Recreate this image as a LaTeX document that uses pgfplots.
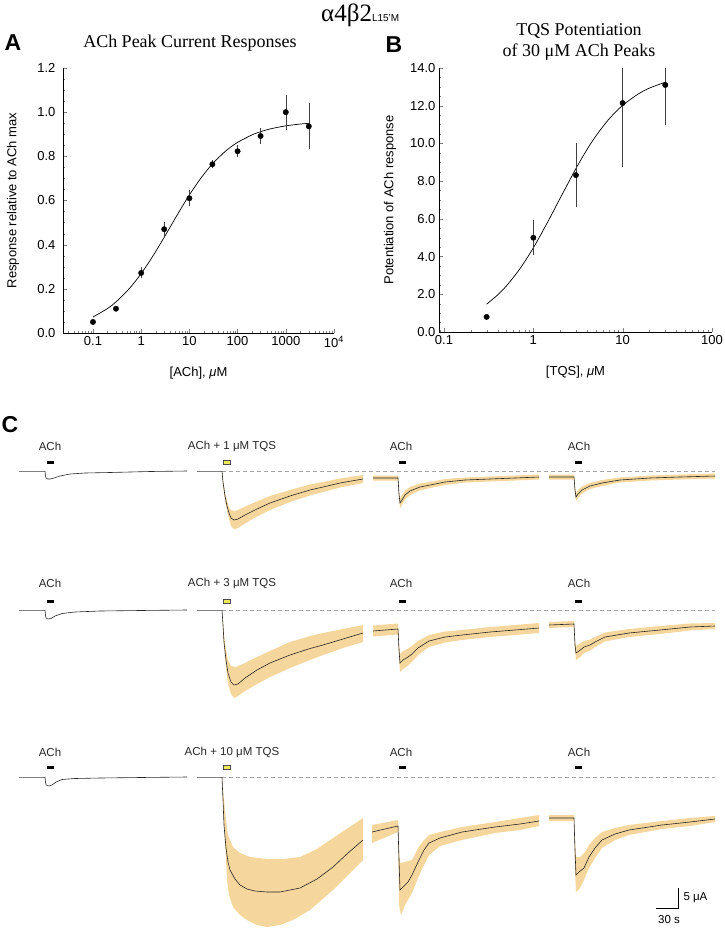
\documentclass[border=0pt]{standalone}
\usepackage{fontspec}
\setmainfont{Liberation Sans}
\newfontfamily\tnr{Liberation Serif}
\usepackage{pgfplots}
\pgfplotsset{compat=1.18}

\definecolor{band}{HTML}{F5D69C}
\definecolor{tqsyellow}{HTML}{EFE95A}
\definecolor{dashgray}{HTML}{A3A3A3}

\pgfplotsset{
  dr/.style={
    scale only axis, axis lines*=left, tick align=inside,
    axis line style={line width=0.6pt},
    major tick length=4pt, minor tick length=2.2pt,
    minor y tick num=3,
    tick label style={font=\fontsize{13}{14}\selectfont},
    yticklabel style={/pgf/number format/fixed, /pgf/number format/fixed zerofill, /pgf/number format/precision=1},
    label style={font=\fontsize{13}{14}\selectfont},
  },
  dots/.style={only marks, mark=*, mark size=2.7pt, black},
  error bars/ebar/.style={error bar style={line width=0.5pt, black!75},
    error mark options={mark size=2.2pt, line width=0.5pt, black!75}},
  trace/.style={black!85, line width=0.6pt},
  pre/.style={black!50, line width=0.6pt},
  bnd/.style={fill=band, draw=none},
}

\begin{document}
\begin{tikzpicture}
\path[use as bounding box] (0pt,0pt) rectangle (724pt,930pt);

% ---------- A: ACh concentration-response ----------
\begin{axis}[xmode=log, dr, /pgf/number format/assume math mode=true,
  at={(63pt,597pt)}, anchor=south west, width=271pt, height=265pt,
  xmin=0.0239, xmax=10000, ymin=0, ymax=1.2,
  xtick={0.1,1,10,100,1000,10000},
  xticklabels={0.1,1,10,100,1000,10\textsuperscript{4}},
  minor xtick={0.03,0.04,0.05,0.06,0.07,0.08,0.09,0.2,0.3,0.4,0.5,0.6,0.7,0.8,0.9,
    2,3,4,5,6,7,8,9,20,30,40,50,60,70,80,90,200,300,400,500,600,700,800,900,
    2000,3000,4000,5000,6000,7000,8000,9000},
  ytick={0,0.2,0.4,0.6,0.8,1.0,1.2},
  yticklabel style={xshift=-4pt},
  xlabel={[ACh], \textit{μ}M}, ylabel={Response relative to ACh max},
  xlabel style={at={(axis description cs:0.5,-0.151)}, anchor=center},
  ylabel style={at={(axis description cs:-0.1845,0.5)}, anchor=center}]
\addplot[black, line width=0.7pt, smooth] coordinates {
  (0.1,0.0723) (0.2,0.1107) (0.3,0.1408) (0.5,0.1878) (0.7,0.2248) (1,0.2691)
  (1.5,0.3256) (2,0.3690) (3,0.4332) (5,0.5164) (7,0.5704) (10,0.6250)
  (15,0.6823) (20,0.7191) (30,0.7656) (50,0.8136) (70,0.8399) (100,0.8633)
  (200,0.8973) (300,0.9116) (500,0.9253) (1000,0.9380) (2000,0.9462) (3000,0.9495)};
\addplot[dots, error bars/.cd, y dir=both, y explicit, ebar]
  table[x=x, y=y, y error=e] {
x y e
1 0.272 0.015
3 0.470 0.022
10 0.610 0.027
30 0.764 0.008
100 0.823 0.017
300 0.892 0.025
1000 1.000 0.070
3000 0.936 0.095
};
\addplot[dots] coordinates {(0.1,0.050) (0.3,0.110)};
\end{axis}

% ---------- B: TQS potentiation ----------
\begin{axis}[xmode=log, dr, /pgf/number format/assume math mode=true,
  at={(439pt,598pt)}, anchor=south west, width=273pt, height=264pt,
  xmin=0.0879, xmax=100, ymin=0, ymax=14,
  xtick={0.1,1,10,100}, xticklabels={0.1,1,10,100},
  minor xtick={0.09,0.2,0.3,0.4,0.5,0.6,0.7,0.8,0.9,2,3,4,5,6,7,8,9,20,30,40,50,60,70,80,90},
  ytick={0,2,4,6,8,10,12,14},
  xlabel={[TQS], \textit{μ}M}, ylabel={Potentiation of ACh response},
  xlabel style={at={(axis description cs:0.5,-0.1515)}, anchor=center},
  ylabel style={at={(axis description cs:-0.179,0.5)}, anchor=center}]
\addplot[black, line width=0.7pt, smooth] coordinates {
  (0.3,1.475) (0.4,1.971) (0.5,2.447) (0.7,3.323) (1,4.463) (1.5,5.969)
  (2,7.102) (3,8.671) (4,9.686) (5,10.387) (7,11.282) (10,12.020)
  (15,12.627) (20,12.937) (30,13.245)};
% upper halves of the two last bars run past the top of the axis: no cap there
\addplot[only marks, mark=none, forget plot,
  error bars/.cd, y dir=plus, y explicit, error mark=none, error bar style={line width=0.5pt, black!75}]
  table[x=x, y=y, y error=e] {
x y e
10 12.14 1.86
30 13.10 0.90
};
\addplot[dots, error bars/.cd, y dir=minus, y explicit, ebar]
  table[x=x, y=y, y error=e] {
x y e
10 12.14 3.30
30 13.10 1.98
};
\addplot[dots, error bars/.cd, y dir=both, y explicit, ebar]
  table[x=x, y=y, y error=e] {
x y e
1 5.00 0.82
3 8.32 1.57
};
\addplot[dots] coordinates {(0.3,0.80)};
\end{axis}

% ---------- page-level overlay (pixel units, y downwards) + panel C ----------
\begin{axis}[at={(0pt,0pt)}, anchor=south west, width=724pt, height=930pt, scale only axis,
  xmin=0, xmax=724, ymin=0, ymax=930, y dir=reverse, hide axis, clip=false]

% titles and panel letters
\node[anchor=base west, inner sep=0] at (axis cs:321,21)
  {\fontsize{25}{25}\tnr α4β2\fontsize{10}{10}\selectfont\normalfont\raisebox{-0.5pt}{L15'M}};
\node[font=\fontsize{18}{18}\tnr] at (axis cs:190,43) {ACh Peak Current Responses};
\node[font=\fontsize{18}{21}\tnr, align=center] at (axis cs:579,42) {TQS Potentiation\\of 30 μM ACh Peaks};
\node[font=\fontsize{23}{23}\selectfont\bfseries] at (axis cs:13,43) {A};
\node[font=\fontsize{23}{23}\selectfont\bfseries] at (axis cs:394,45) {B};
\node[font=\fontsize{23}{23}\selectfont\bfseries] at (axis cs:10,425) {C};

% shaded SEM bands
\addplot[bnd] coordinates {(222,471)(223,480)(225,492)(227,501)(229,507)(231,510)(234,511)(238,510)(245,506.5)(257,501.5)(270,496)(290,490)(310,484.5)(323,482)(340,478.5)(363,475)
  (363,483)(340,487.5)(323,492)(310,495.5)(290,502)(270,510)(257,516.5)(245,523.5)(238,528)(234,529)(231,526)(229,519)(227,511)(225,500)(223,484)(222,471)} -- cycle;
\addplot[bnd] coordinates {(373,475.5)(398,475.5)(399,491)(400,498)(402,495)(405,490.5)(410,487)(420,483.5)(430,482)(445,479)(465,477.5)(490,476.5)(515,475.5)(539,474.5)
  (539,479.5)(515,480.5)(490,481.5)(465,482.5)(445,485)(430,488)(420,490.5)(410,495)(405,499.5)(402,505)(400,508)(399,497)(398,480.5)(373,480.5)} -- cycle;
\addplot[bnd] coordinates {(549,474.5)(574,474.5)(575,487)(576,493)(578,490)(582,486.5)(590,483)(602,480)(620,477.5)(650,475.5)(680,474.5)(715,473.5)
  (715,478.5)(680,479.5)(650,480.5)(620,482.5)(602,486)(590,489)(582,493.5)(578,498)(576,501)(575,493)(574,479.5)(549,479.5)} -- cycle;

\addplot[bnd] coordinates {(222,610)(223,622)(224,636)(226,650)(228,660)(231,666)(236,667)(245,663)(257,657)(270,651)(290,642)(310,636)(323,633)(343,629)(363,625)
  (363,642)(343,648)(323,655)(310,660)(290,668)(270,677)(257,684)(245,691)(238,696)(234,698)(231,694)(228,684)(226,668)(224,646)(223,628)(222,610)} -- cycle;
\addplot[bnd] coordinates {(373,625.5)(398,623.5)(399,643)(400,654)(403,651)(408,648.5)(412,646)(418,641)(429,635)(445,631.5)(462,630)(490,627)(515,625)(539,623)
  (539,633)(515,635)(490,637)(462,640)(445,642.5)(429,647)(418,655)(412,662)(408,665.5)(403,669)(400,672)(399,657)(398,634.5)(373,636.5)} -- cycle;
\addplot[bnd] coordinates {(549,622)(574,621)(575,640)(576,646)(579,644)(584,641)(590,639.5)(595,637)(605,632.5)(629,629)(660,626)(690,623.5)(715,623)
  (715,629)(690,630.5)(660,634)(629,637)(605,641.5)(595,647)(590,650.5)(584,653)(579,658)(576,660)(575,650)(574,627)(549,628)} -- cycle;

\addplot[bnd] coordinates {(222,777)(224,800)(226,820)(228,835)(233,847)(240,853)(250,857)(267,859)(283,859)(300,857)(317,849)(333,838)(348,828)(363,818)
  (363,860)(348,875)(333,890)(310,910)(293,920)(280,925)(267,927)(257,925)(247,920)(240,915)(233,907)(229,895)(227,880)(225,840)(223,800)(222,777)} -- cycle;
\addplot[bnd] coordinates {(372,825)(398,820)(399,850)(400,863)(405,862)(412,860)(418,848)(424,840)(429,835)(440,832)(462,827)(495,822)(539,815)
  (539,826)(520,830)(495,833)(462,840)(440,846)(429,855)(424,865)(418,878)(412,893)(405,905)(401,915)(399,905)(398,832)(372,843)} -- cycle;
\addplot[bnd] coordinates {(549,815)(574,815)(575,840)(576,857)(580,857)(585,852)(589,845)(595,838)(602,832)(615,828)(629,825)(662,821)(690,818)(715,816)
  (715,822)(690,826)(662,829)(629,835)(615,840)(602,848)(595,858)(589,868)(584,880)(580,888)(576,892)(575,870)(574,821)(549,821)} -- cycle;

% dashed baselines
\addplot[dashgray, dash pattern=on 4pt off 3pt, line width=0.7pt] coordinates {(222,471)(715,471)};
\addplot[dashgray, dash pattern=on 4pt off 3pt, line width=0.7pt] coordinates {(222,610)(715,610)};
\addplot[dashgray, dash pattern=on 4pt off 3pt, line width=0.7pt] coordinates {(222,777)(715,777)};

% row 1: 1 uM TQS
\addplot[pre] coordinates {(19,471)(45,471)};
\addplot[trace] coordinates {(45,471)(45.5,476)(46,478)(48,479)(50,479)(54,478)(60,476)(70,474)(85,473)(110,472.5)(150,471.5)(187,471)};
\addplot[pre] coordinates {(197,471)(222,471)};
\addplot[trace] coordinates {(222,471)(223,482)(225,496)(227,506)(229,513)(231,518)(234,520)(238,519)(245,515)(257,509)(270,503)(290,496)(310,490)(323,487)(340,483)(363,479)};
\addplot[trace] coordinates {(373,478)(398,478)(399,494)(400,503)(402,500)(405,495)(410,491)(420,487)(430,485)(445,482)(465,480)(490,479)(515,478)(539,477)};
\addplot[trace] coordinates {(549,477)(574,477)(575,490)(576,497)(578,494)(582,490)(590,486)(602,483)(620,480)(650,478)(680,477)(715,476)};

% row 2: 3 uM TQS
\addplot[pre] coordinates {(19,610)(45,610)};
\addplot[trace] coordinates {(45,610)(45.5,615)(46,618)(48,619)(51,618.5)(55,616)(62,613.5)(75,612)(100,611)(140,610.5)(187,610)};
\addplot[pre] coordinates {(197,610)(222,610)};
\addplot[trace] coordinates {(222,610)(223,625)(224,642)(226,660)(228,673)(231,682)(234,685)(238,684)(245,678)(257,670)(270,663)(290,655)(310,648.5)(323,645)(343,639)(363,633)};
\addplot[trace] coordinates {(373,631)(398,629)(399,650)(400,663)(403,660)(408,657)(412,654)(418,648)(429,641)(445,637)(462,635)(490,632)(515,630)(539,628)};
\addplot[trace] coordinates {(549,625)(574,624)(575,645)(576,653)(579,651)(584,647)(590,645)(595,642)(605,637)(629,633)(660,630)(690,627)(715,626)};

% row 3: 10 uM TQS
\addplot[pre] coordinates {(19,777)(45,777)};
\addplot[trace] coordinates {(45,777)(45.5,782)(46,785)(49,786)(52,785)(56,782)(62,779.5)(75,778.5)(100,778)(140,777.5)(187,777)};
\addplot[pre] coordinates {(197,777)(222,777)};
\addplot[trace] coordinates {(222,777)(223,800)(224,825)(226,848)(228,862)(230,870)(235,879)(240,885)(247,889)(255,891)(267,892)(280,892)(300,888)(317,879)(333,867)(348,853)(363,840)};
\addplot[trace] coordinates {(372,832)(385,829)(398,826)(399,860)(400,890)(403,887)(408,882)(412,875)(418,862)(424,850)(429,843)(440,838)(462,832)(495,827)(520,824)(539,821)};
\addplot[trace] coordinates {(549,818)(574,818)(575,850)(576,875)(579,872)(584,868)(589,857)(595,848)(602,840)(615,834)(629,830)(662,825)(690,822)(715,819)};

% application bars
\addplot[fill=black, draw=none] coordinates {(46.5,460.5)(53.5,460.5)(53.5,464)(46.5,464)} -- cycle;
\addplot[fill=black, draw=none] coordinates {(399,460.5)(406,460.5)(406,464)(399,464)} -- cycle;
\addplot[fill=black, draw=none] coordinates {(575,460.5)(582,460.5)(582,464)(575,464)} -- cycle;
\addplot[fill=tqsyellow, draw=black!70, line width=0.5pt] coordinates {(223,460.5)(230,460.5)(230,464)(223,464)} -- cycle;
\addplot[fill=black, draw=none] coordinates {(46.5,599.5)(53.5,599.5)(53.5,603)(46.5,603)} -- cycle;
\addplot[fill=black, draw=none] coordinates {(399,599.5)(406,599.5)(406,603)(399,603)} -- cycle;
\addplot[fill=black, draw=none] coordinates {(575,599.5)(582,599.5)(582,603)(575,603)} -- cycle;
\addplot[fill=tqsyellow, draw=black!70, line width=0.5pt] coordinates {(223,599.5)(230,599.5)(230,603)(223,603)} -- cycle;
\addplot[fill=black, draw=none] coordinates {(46.5,765.5)(53.5,765.5)(53.5,769)(46.5,769)} -- cycle;
\addplot[fill=black, draw=none] coordinates {(399,765.5)(406,765.5)(406,769)(399,769)} -- cycle;
\addplot[fill=black, draw=none] coordinates {(575,765.5)(582,765.5)(582,769)(575,769)} -- cycle;
\addplot[fill=tqsyellow, draw=black!70, line width=0.5pt] coordinates {(223,765.5)(230,765.5)(230,769)(223,769)} -- cycle;

% application labels
\begin{scope}[every node/.style={font=\fontsize{11.5}{13}\selectfont, text=black!85}]
\node at (axis cs:50,446) {ACh};
\node at (axis cs:232,446) {ACh + 1 μM TQS};
\node at (axis cs:401,446) {ACh};
\node at (axis cs:579,446) {ACh};
\node at (axis cs:50,583) {ACh};
\node at (axis cs:232,583) {ACh + 3 μM TQS};
\node at (axis cs:401,583) {ACh};
\node at (axis cs:579,583) {ACh};
\node at (axis cs:50,752) {ACh};
\node at (axis cs:232,752) {ACh + 10 μM TQS};
\node at (axis cs:401,752) {ACh};
\node at (axis cs:579,752) {ACh};
\end{scope}

% scale bar
\addplot[black, line width=0.7pt] coordinates {(656,908)(678,908)(678,888)};
\node[anchor=west, font=\fontsize{11.5}{13}\selectfont] at (axis cs:680,898) {5 μA};
\node[font=\fontsize{11.5}{13}\selectfont] at (axis cs:669,920) {30 s};
\end{axis}
\end{tikzpicture}
\end{document}
